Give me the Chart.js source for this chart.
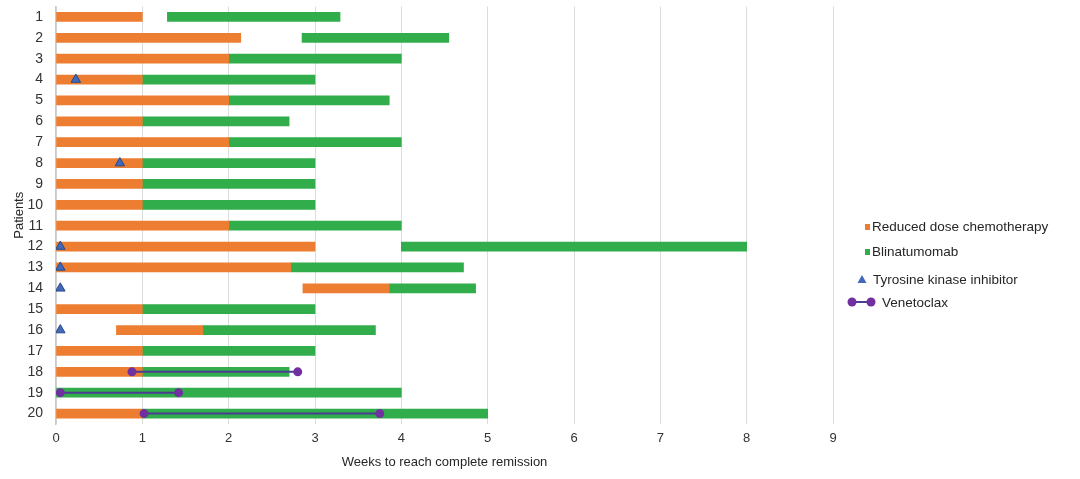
<!DOCTYPE html>
<html lang="en">
<head>
<meta charset="UTF-8">
<title>Weeks to reach complete remission</title>
<script src="https://cdn.jsdelivr.net/npm/chart.js@4.4.1/dist/chart.umd.min.js"></script>
<style>
  html, body { margin: 0; padding: 0; background: #fff; }
  #wrap { width: 1080px; height: 479px; }
</style>
</head>
<body>
<div id="wrap"><canvas id="myChart" width="1080" height="479"></canvas></div>
<script>
// patients on the y axis
const patients = ['1','2','3','4','5','6','7','8','9','10','11','12','13','14','15','16','17','18','19','20'];
const weekTicks = [0,1,2,3,4,5,6,7,8,9];

// [start, end] in weeks, null when not given
const chemo = [[0,1],[0,2.14],[0,2],[0,1],[0,2],[0,1],[0,2],[0,1],[0,1],[0,1],
               [0,2],[0,3],[0,2.72],[2.86,3.86],[0,1],[0.7,1.7],[0,1],[0,1],null,[0,1]];
const blina = [[1.29,3.29],[2.85,4.55],[2,4],[1,3],[2,3.86],[1,2.7],[2,4],[1,3],[1,3],[1,3],
               [2,4],[4,8],[2.72,4.72],[3.86,4.86],[1,3],[1.7,3.7],[1,3],[1,2.7],[0,4],[1,5]];

// tyrosine kinase inhibitor start
const tkiPatients = ['4','8','12','13','14','16'];
const tkiWeeks = [0.23,0.74,0.05,0.05,0.05,0.05];

// venetoclax ranges
const venPatients = ['18','19','20'];
const venStart = [0.88,0.05,1.02];
const venEnd = [2.8,1.42,3.75];

const ORANGE = '#ed7d31';
const GREEN = '#31ad4b';
const BLUE = '#4169b8';
const PURPLE = '#7030a0';
const VLINE = '#4b3d91';
const FONT = 'Liberation Sans, Arial, sans-serif';

const venSets = venPatients.map((p, i) => ({
    type: 'line',
    label: 'Venetoclax',
    data: [{x: venStart[i], y: p}, {x: venEnd[i], y: p}],
    borderColor: VLINE,
    borderWidth: 2,
    pointRadius: 4.5,
    pointBackgroundColor: PURPLE,
    pointBorderColor: PURPLE,
    pointBorderWidth: 0,
    order: 1
}));

// legend drawn at the right side
const sideLegend = {
    id: 'sideLegend',
    afterDraw(chart) {
        const c = chart.ctx;
        c.save();
        c.font = '13.5px ' + FONT;
        c.textBaseline = 'middle';
        c.fillStyle = ORANGE; c.fillRect(865, 224, 5, 6);
        c.fillStyle = GREEN; c.fillRect(865, 249, 5, 6);
        c.fillStyle = BLUE;
        c.beginPath(); c.moveTo(862, 275); c.lineTo(866.5, 283); c.lineTo(857.5, 283); c.closePath(); c.fill();
        c.strokeStyle = VLINE; c.lineWidth = 2;
        c.beginPath(); c.moveTo(852, 302); c.lineTo(871, 302); c.stroke();
        c.fillStyle = PURPLE;
        c.beginPath(); c.arc(852, 302, 4.5, 0, Math.PI * 2); c.fill();
        c.beginPath(); c.arc(871, 302, 4.5, 0, Math.PI * 2); c.fill();
        c.fillStyle = '#262626';
        c.fillText('Reduced dose chemotherapy', 872, 227);
        c.fillText('Blinatumomab', 872, 252);
        c.fillText('Tyrosine kinase inhibitor', 873, 280);
        c.fillText('Venetoclax', 882, 303);
        c.restore();
    }
};

const ctx = document.getElementById('myChart').getContext('2d');
const myChart = new Chart(ctx, {
    type: 'bar',
    data: {
        labels: patients,
        datasets: [{
            label: 'Reduced dose chemotherapy',
            data: chemo,
            backgroundColor: ORANGE,
            barThickness: 9,
            grouped: false,
            order: 3
        }, {
            label: 'Blinatumomab',
            data: blina,
            backgroundColor: GREEN,
            barThickness: 9,
            grouped: false,
            order: 4
        }, {
            type: 'scatter',
            label: 'Tyrosine kinase inhibitor',
            data: tkiPatients.map((p, i) => ({x: tkiWeeks[i], y: p})),
            pointStyle: 'triangle',
            pointRadius: 5.5,
            backgroundColor: BLUE,
            borderColor: '#2a4a8c',
            borderWidth: 1,
            order: 2
        }].concat(venSets)
    },
    options: {
        indexAxis: 'y',
        responsive: false,
        animation: false,
        layout: { padding: { left: 6, top: 1, right: 247, bottom: 0 } },
        plugins: {
            legend: { display: false },
            tooltip: { enabled: false }
        },
        scales: {
            x: {
                type: 'linear',
                min: 0,
                max: 9,
                afterBuildTicks(axis) { axis.ticks = weekTicks.map(v => ({value: v})); },
                afterFit(axis) { axis.height = 55; axis.paddingLeft = 0; axis.paddingRight = 0; },
                ticks: { stepSize: 1, color: '#333', font: { family: FONT, size: 13 }, padding: 7 },
                grid: { color: '#dcdcdc', lineWidth: 1, drawTicks: false },
                border: { display: false },
                title: { display: true, text: 'Weeks to reach complete remission', color: '#262626',
                         font: { family: FONT, size: 13 }, padding: { top: 2, bottom: 9 } }
            },
            y: {
                type: 'category',
                afterFit(axis) { axis.width = 50; axis.paddingTop = 0; axis.paddingBottom = 0; },
                ticks: { color: '#333', font: { family: FONT, size: 14 }, padding: 5 },
                grid: { display: false },
                border: { display: true, color: '#c8c8c8', width: 1.5 },
                title: { display: true, text: 'Patients', color: '#262626',
                         font: { family: FONT, size: 13 }, padding: { top: 6, bottom: 0 } }
            }
        }
    },
    plugins: [sideLegend]
});
</script>
</body>
</html>
